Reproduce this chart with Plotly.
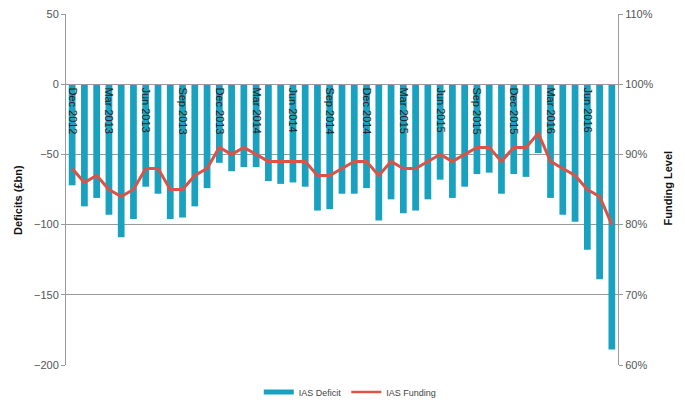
import plotly.graph_objects as go

# Monthly series, Dec 2012 - Aug 2016
months = [
    "Dec 2012", "Jan 2013", "Feb 2013", "Mar 2013", "Apr 2013", "May 2013",
    "Jun 2013", "Jul 2013", "Aug 2013", "Sep 2013", "Oct 2013", "Nov 2013",
    "Dec 2013", "Jan 2014", "Feb 2014", "Mar 2014", "Apr 2014", "May 2014",
    "Jun 2014", "Jul 2014", "Aug 2014", "Sep 2014", "Oct 2014", "Nov 2014",
    "Dec 2014", "Jan 2015", "Feb 2015", "Mar 2015", "Apr 2015", "May 2015",
    "Jun 2015", "Jul 2015", "Aug 2015", "Sep 2015", "Oct 2015", "Nov 2015",
    "Dec 2015", "Jan 2016", "Feb 2016", "Mar 2016", "Apr 2016", "May 2016",
    "Jun 2016", "Jul 2016", "Aug 2016",
]

# IAS deficit, £bn
ias_deficit = [
    -72, -87, -81, -93, -109, -96, -73, -78, -96, -95, -87, -74,
    -56, -62, -59, -59, -69, -71, -70, -73, -90, -89, -78, -78,
    -74, -97, -82, -92, -90, -82, -68, -81, -73, -64, -63, -78,
    -64, -66, -49, -81, -93, -98, -118, -139, -189,
]

# IAS funding level, %
ias_funding = [
    88, 86, 87, 85, 84, 85, 88, 88, 85, 85, 87, 88,
    91, 90, 91, 90, 89, 89, 89, 89, 87, 87, 88, 89,
    89, 87, 89, 88, 88, 89, 90, 89, 90, 91, 91, 89,
    91, 91, 93, 89, 88, 87, 85, 84, 80,
]

# Quarterly category labels
tick_months = months[::3]

BAR_COLOR = "#19A2C0"
LINE_COLOR = "#DC5247"
GRID = "#9A9A9A"
FONT = "Liberation Sans, Arial, sans-serif"
TICK_FONT = dict(family=FONT, size=11, color="#555555")

fig = go.Figure()

fig.add_trace(go.Bar(
    x=months, y=ias_deficit, name="IAS Deficit",
    marker=dict(color=BAR_COLOR, line=dict(width=0)),
    width=0.55, yaxis="y", showlegend=False,
))

fig.add_trace(go.Scatter(
    x=months, y=ias_funding, name="IAS Funding",
    mode="lines", line=dict(color=LINE_COLOR, width=3),
    yaxis="y2", showlegend=False,
))

# Legend keys: a wide teal band for the bars and a red stroke for the line
fig.add_trace(go.Scatter(
    x=[None], y=[None], name="IAS Deficit", mode="lines",
    line=dict(color=BAR_COLOR, width=5), yaxis="y",
))
fig.add_trace(go.Scatter(
    x=[None], y=[None], name="IAS Funding", mode="lines",
    line=dict(color=LINE_COLOR, width=2.5), yaxis="y2",
))

fig.update_layout(
    width=685, height=400,
    margin=dict(l=66, r=67, t=14, b=35, autoexpand=False),
    paper_bgcolor="white", plot_bgcolor="white",
    showlegend=True,
    legend=dict(
        orientation="h", x=0.515, xanchor="center", y=-0.077, yanchor="middle",
        font=dict(family=FONT, size=9, color="#444444"),
        itemwidth=30, tracegroupgap=0, bgcolor="rgba(0,0,0,0)",
    ),
    xaxis=dict(
        type="category", categoryorder="array", categoryarray=months,
        tickmode="array", tickvals=tick_months, ticktext=tick_months,
        tickangle=90, ticks="", showgrid=False,
        anchor="free", position=0.8, side="bottom",
        showline=True, linecolor=GRID, linewidth=1,
        tickfont=dict(family=FONT, size=11, color="#222222"),
        range=[-0.5, len(months) - 0.5],
    ),
    yaxis=dict(
        range=[-200, 50], dtick=50, tick0=0,
        showgrid=True, gridcolor=GRID, gridwidth=1,
        zeroline=False, showline=True, linecolor=GRID, linewidth=1,
        ticks="outside", ticklen=4, tickcolor=GRID,
        tickfont=TICK_FONT,
    ),
    yaxis2=dict(
        range=[60, 110], dtick=10, tick0=60, ticksuffix="%",
        overlaying="y", side="right", anchor="x",
        showgrid=False, zeroline=False, showline=True, linecolor=GRID, linewidth=1,
        ticks="outside", ticklen=4, tickcolor=GRID,
        tickfont=TICK_FONT,
    ),
    annotations=[
        dict(text="<b>Deficits (£bn)</b>", xref="paper", yref="paper",
             x=-0.087, y=0.47, xanchor="center", yanchor="middle",
             textangle=-90, showarrow=False,
             font=dict(family=FONT, size=11, color="#111111")),
        dict(text="<b>Funding Level</b>", xref="paper", yref="paper",
             x=1.09, y=0.505, xanchor="center", yanchor="middle",
             textangle=-90, showarrow=False,
             font=dict(family=FONT, size=11, color="#111111")),
    ],
)

fig.write_html("out.html")
